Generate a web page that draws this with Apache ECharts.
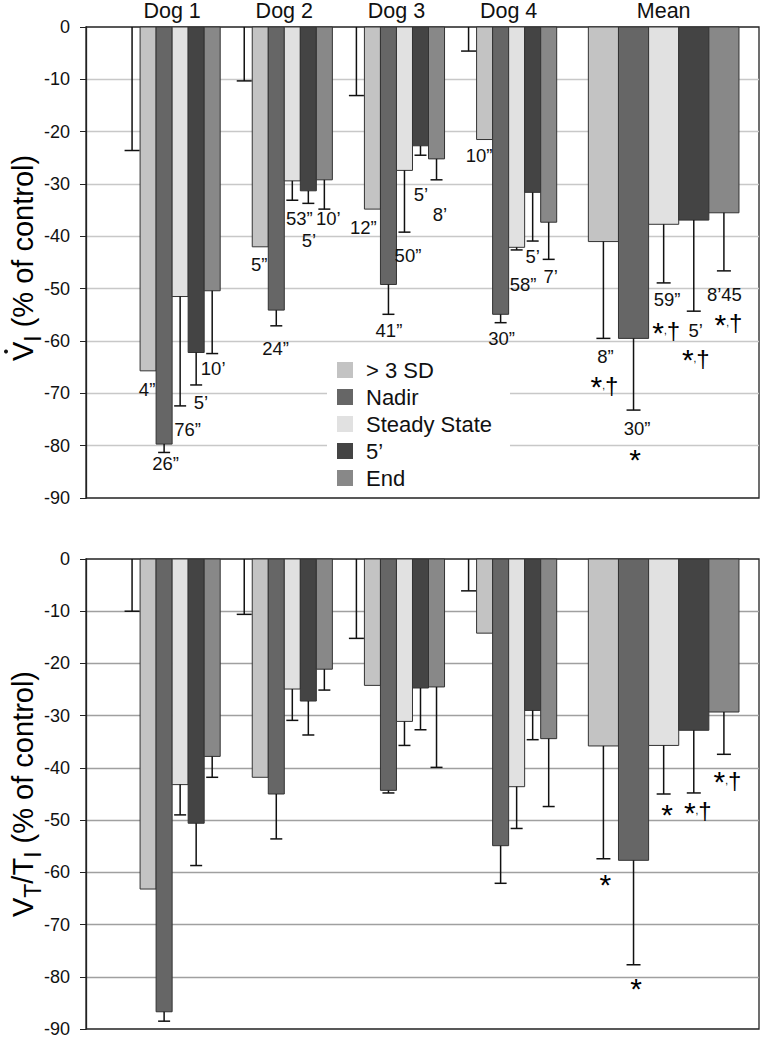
<!DOCTYPE html>
<html><head><meta charset="utf-8">
<script src="https://cdn.jsdelivr.net/npm/echarts@6/dist/echarts.min.js"></script>
<style>html,body{margin:0;padding:0;background:#fff}#c{width:760px;height:1038px}</style>
</head><body><div id="c"></div>
<script>
// ---------------- DATA ----------------
const groups = ['Dog 1', 'Dog 2', 'Dog 3', 'Dog 4', 'Mean'];
const seriesNames = ['> 3 SD', 'Nadir', 'Steady State', '5’', 'End'];
const yTicks = [0, -10, -20, -30, -40, -50, -60, -70, -80, -90];

// Top panel: V̇I (% of control)
const viSD = [-65.7, -42.0, -34.8, -21.5, -41.0];
const viSDErr = [0, 0, 0, 0, 18.5];
const viNadir = [-79.7, -54.1, -49.2, -54.9, -59.5];
const viNadirErr = [1.6, 3.0, 5.7, 1.6, 13.7];
const viSteady = [-51.5, -29.4, -27.4, -42.1, -37.7];
const viSteadyErr = [20.9, 3.7, 11.8, 0.5, 11.2];
const vi5 = [-62.2, -31.3, -22.7, -31.6, -36.9];
const vi5Err = [6.2, 2.4, 1.8, 9.3, 17.4];
const viEnd = [-50.4, -29.2, -25.2, -37.3, -35.5];
const viEndErr = [12.0, 5.6, 4.0, 7.1, 11.1];
const viBaseErr = [23.6, 10.3, 13.1, 4.6];

const viTimeSD = ['4”', '5”', '12”', '10”', '8”'];
const viTimeNadir = ['26”', '24”', '41”', '30”', '30”'];
const viTimeSteady = ['76”', '53”', '50”', '58”', '59”'];
const viTime5 = ['5’', '5’', '5’', '5’', '5’'];
const viTimeEnd = ['10’', '10’', '8’', '7’', '8’45'];
const viSig = ['*,†', '*', '*,†', '*,†', '*,†'];

// Bottom panel: VT/TI (% of control)
const vtSD = [-63.2, -41.8, -24.2, -14.2, -35.8];
const vtSDErr = [0, 0, 0, 0, 21.6];
const vtNadir = [-86.7, -45.0, -44.3, -54.9, -57.7];
const vtNadirErr = [1.8, 8.6, 0.5, 7.2, 20.0];
const vtSteady = [-43.2, -24.9, -31.1, -43.6, -35.7];
const vtSteadyErr = [5.8, 6.0, 4.6, 8.0, 9.3];
const vt5 = [-50.6, -27.2, -24.7, -29.0, -32.8];
const vt5Err = [8.1, 6.5, 8.0, 5.6, 12.0];
const vtEnd = [-37.8, -21.1, -24.5, -34.4, -29.3];
const vtEndErr = [4.0, 4.0, 15.4, 13.0, 8.1];
const vtBaseErr = [10.0, 10.6, 15.2, 6.1];
const vtSig = ['*', '*', '*', '*,†', '*,†'];

// ---------------- LAYOUT / STYLE ----------------
const FONT = '"Liberation Sans", Arial, Helvetica, sans-serif';
const COLORS = ['#c3c3c3', '#666666', '#e1e1e1', '#444444', '#888888'];
const X_MAX = 42;
const GROUP_START = [3.375, 10.375, 17.375, 24.375, 31.35];
const GROUP_BARW = [1, 1, 1, 1, 1.88];
const CAP = [12, 12, 12, 12, 14];
const TIME_OFF = [
  [[-1, 19], [-1, 18], [-9, 18], [-5.5, 16], [2, 18]],
  [[1.5, 11], [-0.7, 23], [0.5, 16], [1, 16], [3.5, 18]],
  [[7.5, 24], [7, 18], [3.5, 23], [6.5, 35], [3.5, 17]],
  [[4.7, 18], [0.7, 37], [0.5, 39], [0, 15], [2, 19]],
  [[1, 15], [4, 9], [3.5, 35], [2, 17], [0.5, 24]]
];
const SIG_OFF_TOP = [[1, 47], [1.5, 48], [2.5, 48], [2, 47], [4.5, 52]];
const SIG_OFF_BOT = [[2, 24], [2.5, 22], [3.5, 19], [4, 18], [3.5, 26]];

const topVals = [viSD, viNadir, viSteady, vi5, viEnd];
const topErrs = [viSDErr, viNadirErr, viSteadyErr, vi5Err, viEndErr];
const topTimes = [viTimeSD, viTimeNadir, viTimeSteady, viTime5, viTimeEnd];
const botVals = [vtSD, vtNadir, vtSteady, vt5, vtEnd];
const botErrs = [vtSDErr, vtNadirErr, vtSteadyErr, vt5Err, vtEndErr];

const groupCenters = groups.map((g, i) => i < 4 ? GROUP_START[i] + 2 : GROUP_START[i] + 2.5 * GROUP_BARW[i]);

function barRenderer(sIdx) {
  return function (params, api) {
    const g = api.value(0), v = api.value(1), e = api.value(2);
    const w = GROUP_BARW[g];
    const x0 = GROUP_START[g] + sIdx * w;
    const p0 = api.coord([x0, 0]);
    const p1 = api.coord([x0 + w, v]);
    const children = [{
      type: 'rect',
      shape: { x: p0[0], y: p0[1], width: p1[0] - p0[0], height: p1[1] - p0[1] },
      style: { fill: COLORS[sIdx], stroke: '#333', lineWidth: 1 }
    }];
    if (e > 0) {
      const cx = (p0[0] + p1[0]) / 2;
      const pe = api.coord([x0 + w / 2, v - e]);
      children.push({ type: 'line', shape: { x1: cx, y1: p1[1], x2: cx, y2: pe[1] }, style: { stroke: '#111', lineWidth: 1.5 } });
      children.push({ type: 'line', shape: { x1: cx - CAP[g] / 2, y1: pe[1], x2: cx + CAP[g] / 2, y2: pe[1] }, style: { stroke: '#111', lineWidth: 1.5 } });
    }
    return { type: 'group', children };
  };
}

function baseErrRenderer(params, api) {
  const g = api.value(0), e = api.value(1);
  const x = GROUP_START[g] - 0.5;
  const p0 = api.coord([x, 0]);
  const p1 = api.coord([x, -e]);
  return {
    type: 'group', children: [
      { type: 'line', shape: { x1: p0[0], y1: p0[1], x2: p1[0], y2: p1[1] }, style: { stroke: '#111', lineWidth: 1.5 } },
      { type: 'line', shape: { x1: p1[0] - 7.5, y1: p1[1], x2: p1[0] + 7.5, y2: p1[1] }, style: { stroke: '#111', lineWidth: 1.5 } }
    ]
  };
}

const sigRich = {
  a: { fontSize: 30, fontFamily: FONT, color: '#111', padding: [3, 0, 0, 0] },
  b: { fontSize: 10, fontFamily: FONT, color: '#111' },
  c: { fontSize: 24, fontFamily: FONT, color: '#111' }
};
function sigText(s) {
  if (s === '*') return '{a|*}';
  return '{a|*}{b|,}{c|†}';
}

function labelRenderer(vals, errs, texts, offs, kind) {
  return function (params, api) {
    const g = api.value(0), s = api.value(1);
    const w = GROUP_BARW[g];
    const x0 = GROUP_START[g] + s * w;
    const end = vals[s][g] - (errs[s][g] || 0);
    const p = api.coord([x0 + w / 2, end]);
    const off = offs(g, s);
    const txt = texts(g, s);
    const style = kind === 'sig'
      ? { text: sigText(txt), rich: sigRich, x: p[0] + off[0], y: p[1] + off[1], align: 'center', verticalAlign: 'middle' }
      : { text: txt, x: p[0] + off[0], y: p[1] + off[1], align: 'center', verticalAlign: 'middle', fontSize: 18.5, fontFamily: FONT, fill: '#111' };
    return { type: 'text', style };
  };
}

function yAxisCfg(gridIndex, splitColor) {
  return {
    type: 'value', gridIndex, min: -90, max: 0, interval: 10,
    axisLine: { show: true, lineStyle: { color: '#222', width: 1.3 } },
    axisTick: { show: true, length: 6, lineStyle: { color: '#222' } },
    axisLabel: { fontSize: 18, fontFamily: FONT, color: '#111', margin: 16,
      formatter: v => String(yTicks.find(t => Math.abs(t - v) < 1e-6) ?? v) },
    splitLine: { show: true, showMinLine: false, showMaxLine: false, lineStyle: { color: splitColor, width: 1.3 } }
  };
}

const T_BIG = 29, T_SUB = 23;
const nameRich = {
  v: { fontSize: T_BIG, fontFamily: FONT, color: '#111', lineHeight: 42, verticalAlign: 'middle' },
  s: { fontSize: T_SUB, fontFamily: FONT, color: '#111', lineHeight: 19, verticalAlign: 'bottom' },
  t: { fontSize: T_BIG, fontFamily: FONT, color: '#111', lineHeight: 42, verticalAlign: 'middle' }
};

// measure the top title so that the dot over V can be placed above the V
const mctx = document.createElement('canvas').getContext('2d');
function tw(txt, size) { mctx.font = size + 'px ' + FONT; return mctx.measureText(txt).width; }
const TITLE_X = 23;
const TOP_TITLE_CY = 258;
const topTitleW = tw('V', T_BIG) + tw('I', T_SUB) + tw(' (% of control)', T_BIG);
const vCenterY = TOP_TITLE_CY + topTitleW / 2 - tw('V', T_BIG) / 2;

const series = [];
[0, 1].forEach(chart => {
  const vals = chart === 0 ? topVals : botVals;
  const errs = chart === 0 ? topErrs : botErrs;
  const base = chart === 0 ? viBaseErr : vtBaseErr;
  seriesNames.forEach((name, s) => {
    series.push({
      type: 'custom', name, xAxisIndex: chart, yAxisIndex: chart,
      itemStyle: { color: COLORS[s] },
      renderItem: barRenderer(s),
      encode: { x: -1, y: 1 },
      data: vals[s].map((v, g) => [g, v, errs[s][g]]),
      silent: true, z: 2
    });
  });
  series.push({
    type: 'custom', name: 'base', xAxisIndex: chart, yAxisIndex: chart,
    renderItem: baseErrRenderer, data: base.map((e, g) => [g, e]), silent: true, z: 3
  });
});

const timeData = [];
seriesNames.forEach((n, s) => groups.forEach((g, gi) => timeData.push([gi, s])));
series.push({
  type: 'custom', name: 'times', xAxisIndex: 0, yAxisIndex: 0, z: 5, silent: true,
  renderItem: labelRenderer(topVals, topErrs, (g, s) => topTimes[s][g], (g, s) => TIME_OFF[s][g], 'time'),
  data: timeData
});
series.push({
  type: 'custom', name: 'sigTop', xAxisIndex: 0, yAxisIndex: 0, z: 5, silent: true,
  renderItem: labelRenderer(topVals, topErrs, (g, s) => viSig[s], (g, s) => SIG_OFF_TOP[s], 'sig'),
  data: seriesNames.map((n, s) => [4, s])
});
series.push({
  type: 'custom', name: 'sigBot', xAxisIndex: 1, yAxisIndex: 1, z: 5, silent: true,
  renderItem: labelRenderer(botVals, botErrs, (g, s) => vtSig[s], (g, s) => SIG_OFF_BOT[s], 'sig'),
  data: seriesNames.map((n, s) => [4, s])
});

const GRID_TOP = { left: 86, top: 27, width: 673, height: 471 };
const GRID_BOT = { left: 86, top: 559, width: 673, height: 470 };

const chart = echarts.init(document.getElementById('c'), null, { renderer: 'svg' });
chart.setOption({
  animation: false,
  backgroundColor: '#fff',
  grid: [GRID_TOP, GRID_BOT].map(g => Object.assign({ show: true, borderColor: '#222', borderWidth: 1.3, backgroundColor: 'transparent' }, g)),
  xAxis: [0, 1].map(i => ({
    type: 'value', gridIndex: i, min: 0, max: X_MAX, position: 'top',
    axisLine: { show: false }, axisTick: { show: false }, splitLine: { show: false },
    axisLabel: {
      show: i === 0, customValues: groupCenters, fontSize: 21.5, fontFamily: FONT, color: '#111', margin: 5,
      formatter: v => { const k = groupCenters.findIndex(c => Math.abs(c - v) < 1e-3); return k >= 0 ? groups[k] : ''; }
    }
  })),
  yAxis: [yAxisCfg(0, '#c8c8c8'), yAxisCfg(1, '#a0a0a0')],
  graphic: [
    { type: 'text', x: TITLE_X, y: TOP_TITLE_CY, rotation: Math.PI / 2,
      style: { text: '{v|V}{s|I}{t| (% of control)}', rich: nameRich, align: 'center', verticalAlign: 'middle' } },
    { type: 'circle', shape: { cx: TITLE_X - 17, cy: vCenterY, r: 2 }, style: { fill: '#111' } },
    { type: 'text', x: TITLE_X, y: GRID_BOT.top + GRID_BOT.height / 2, rotation: Math.PI / 2,
      style: { text: '{v|V}{s|T}{v|/T}{s|I}{t| (% of control)}', rich: nameRich, align: 'center', verticalAlign: 'middle' } }
  ],
  legend: {
    data: seriesNames, orient: 'vertical', left: 327, top: 345,
    itemWidth: 16, itemHeight: 16, itemGap: 5, icon: 'rect', selectedMode: false,
    backgroundColor: '#fff', padding: [14, 18, 6, 10],
    itemStyle: { borderWidth: 0 },
    textStyle: { fontSize: 22, lineHeight: 22, fontFamily: FONT, color: '#111', padding: [0, 0, 0, 8] }
  },
  series
});
</script>
</body></html>
